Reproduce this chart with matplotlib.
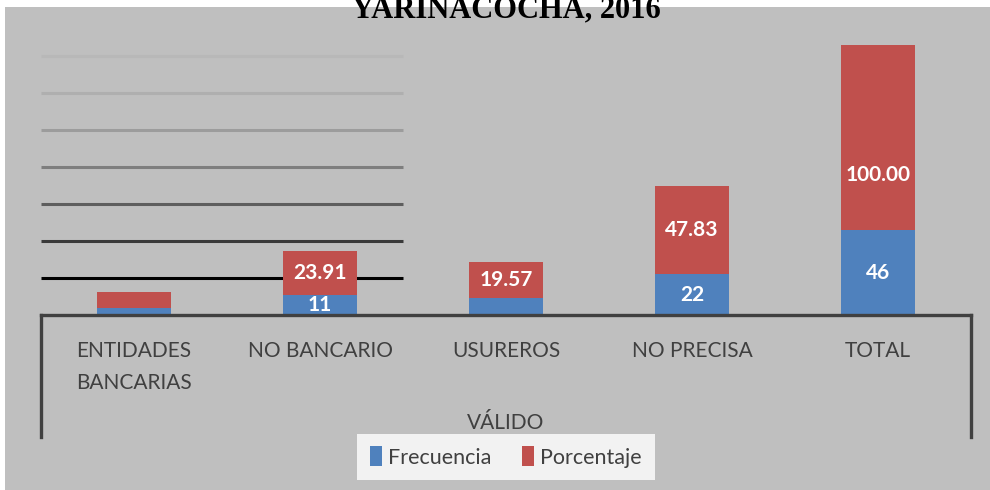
import matplotlib.pyplot as plt
import matplotlib.patches as mpatches
from matplotlib.lines import Line2D

# data
categorias = ["ENTIDADES\nBANCARIAS", "NO BANCARIO", "USUREROS", "NO PRECISA", "TOTAL"]
frecuencia = [4, 11, 9, 22, 46]
porcentaje = [8.70, 23.91, 19.57, 47.83, 100.00]
mostrar_frec = [False, True, False, True, True]
mostrar_porc = [False, True, True, True, True]
grid_vals = [20, 40, 60, 80, 100, 120, 140]
grid_cols = ['#000000', '#3a3a3a', '#5e5e5e', '#7e7e7e', '#9c9c9c', '#afafaf', '#b8b8b8']

azul = '#4f81bd'
rojo = '#c0504d'
gris = '#bfbfbf'

fig = plt.figure(figsize=(9.9, 4.9), dpi=100)
fig.patch.set_facecolor('white')
fondo = mpatches.Rectangle((5/990, 0), 1, 1 - 7/490, transform=fig.transFigure,
                           facecolor=gris, edgecolor='none', zorder=-10)
fig.add_artist(fondo)

ax = fig.add_axes([41/990, 1 - 315/490, 930/990, 277/490])
ax.set_facecolor('none')
ax.set_xlim(-0.5, 4.5)
ax.set_ylim(0, 150)

x = range(len(categorias))
# partial grid lines on the left side only
ax.hlines(grid_vals, -0.5, 1.445, colors=grid_cols, linewidth=2.2, zorder=1)

b1 = ax.bar(x, frecuencia, width=0.4, color=azul, zorder=2, label='Frecuencia')
b2 = ax.bar(x, porcentaje, width=0.4, bottom=frecuencia, color=rojo, zorder=2, label='Porcentaje')

frac = [0.5, 0.5, 0.5, 0.5, 0.3]
for i in x:
    if mostrar_frec[i]:
        ax.text(i, frecuencia[i] / 2, str(frecuencia[i]), ha='center', va='center',
                color='white', fontsize=15, fontweight='bold', family='Lato', zorder=3)
    if mostrar_porc[i]:
        ax.text(i, frecuencia[i] + porcentaje[i] * frac[i], '%.2f' % porcentaje[i],
                ha='center', va='center', color='white', fontsize=15,
                fontweight='bold', family='Lato', zorder=3)

for s in ['top', 'right', 'left']:
    ax.spines[s].set_visible(False)
ax.spines['bottom'].set_color('#404040')
ax.spines['bottom'].set_linewidth(2.4)
ax.set_yticks([])
ax.set_xticks(list(x))
ax.set_xticklabels(categorias, fontsize=15, family='Lato', color='#404040', linespacing=1.75)
ax.tick_params(axis='x', length=0, pad=19)

# group bracket lines
for xx in [0, 1]:
    ax.add_line(Line2D([xx, xx], [0, -0.44], transform=ax.transAxes, color='#404040',
                       linewidth=2.4, clip_on=False))
ax.text(0.5, -0.39, 'VÁLIDO', transform=ax.transAxes, ha='center', va='center',
        fontsize=15, family='Lato', color='#404040')

fig.text(506/990, 1 - 17/490, 'YARINACOCHA, 2016', ha='center', va='baseline',
         fontsize=22, fontweight='bold', family='Liberation Serif', color='black')

leg = fig.legend(handles=[b1, b2], loc='center', bbox_to_anchor=(506/990, 1 - 457/490),
                 ncol=2, frameon=True, fancybox=False, facecolor='#f2f2f2', edgecolor='none',
                 framealpha=1, prop={'family': 'Lato', 'size': 15.5}, handlelength=0.55,
                 handleheight=1.0, handletextpad=0.3, columnspacing=1.4,
                 borderpad=0.6, borderaxespad=0)
for t in leg.get_texts():
    t.set_color('#404040')

fig.savefig('out.png', dpi=100)
